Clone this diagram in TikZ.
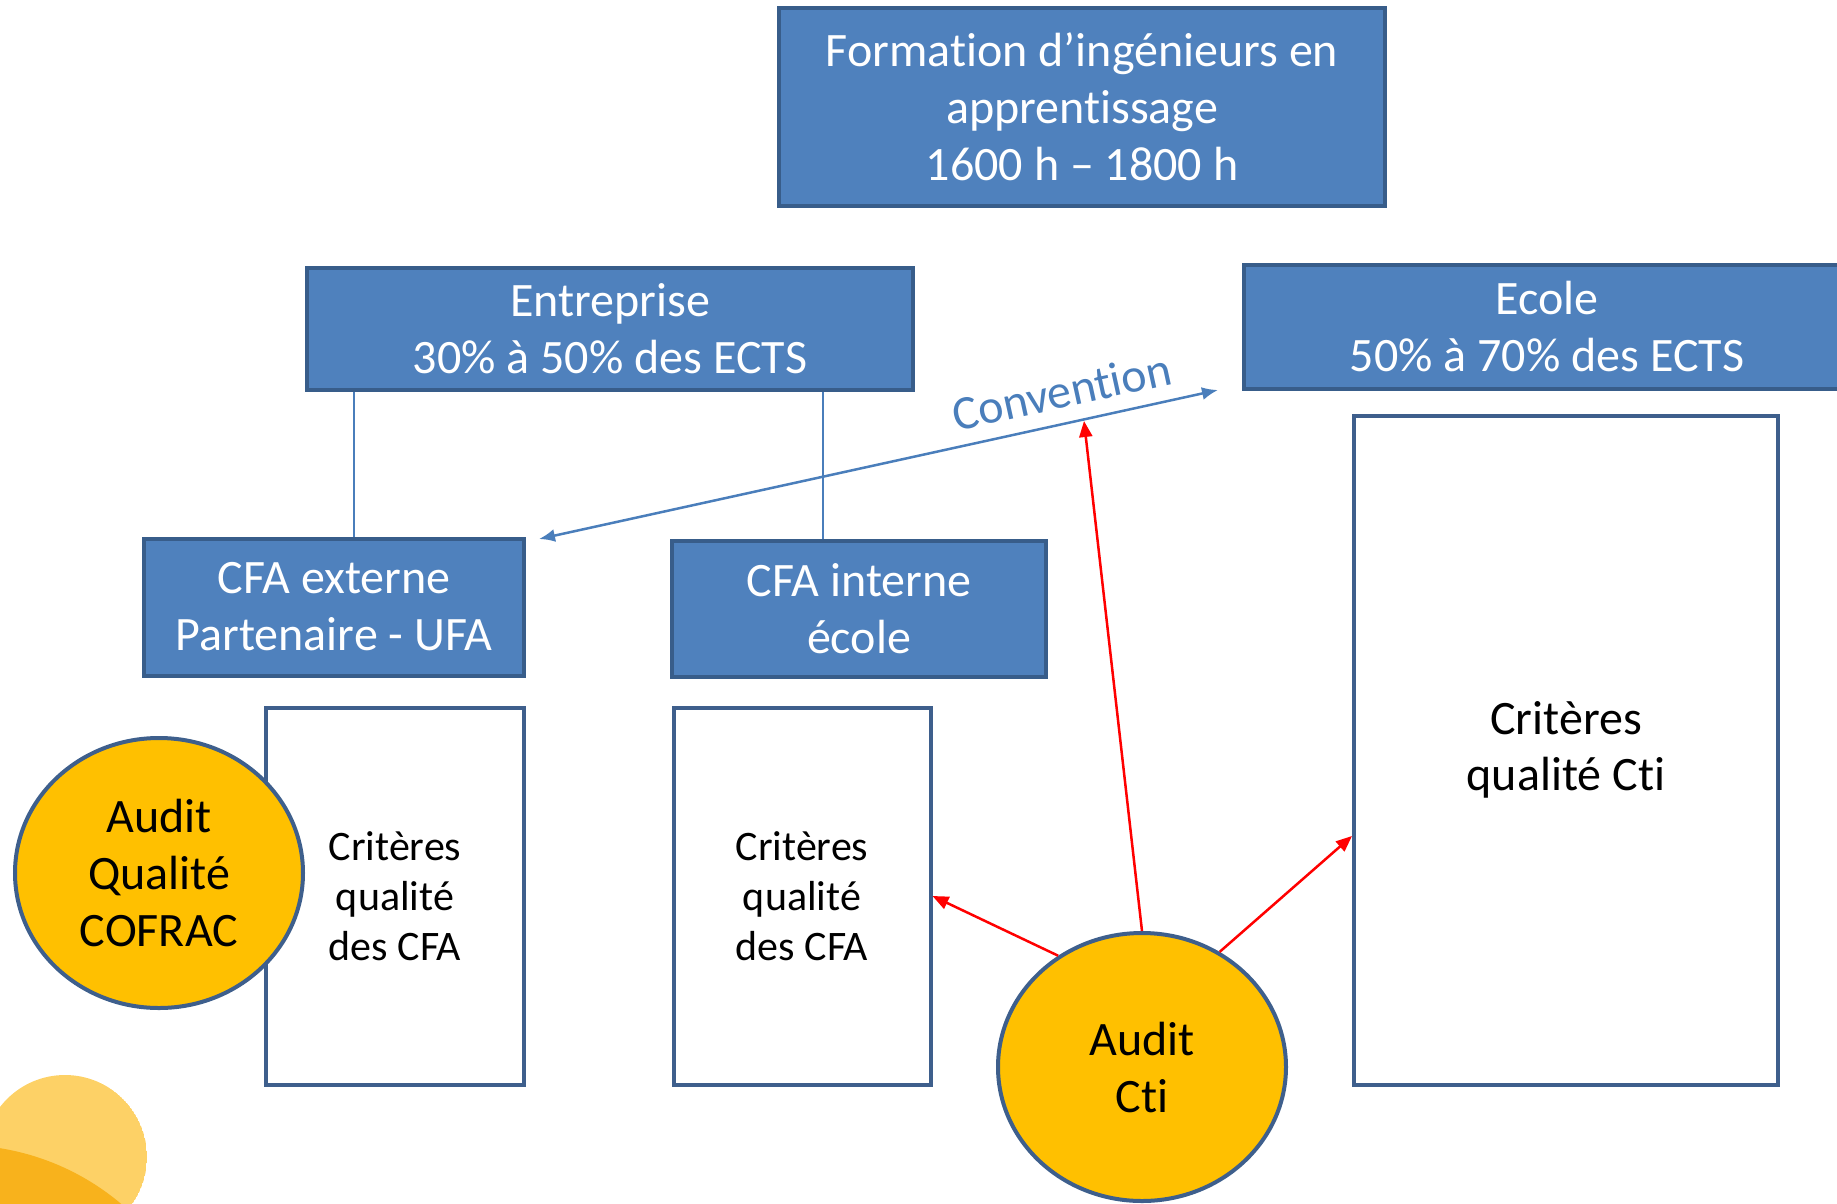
\documentclass[tikz,border=0pt]{standalone}
\usepackage{fontspec}
\setmainfont{Carlito}[Ligatures={NoCommon,NoRare,NoContextual}]
\usetikzlibrary{arrows.meta, positioning, calc, shapes.geometric}
\definecolor{boiteBleu}{HTML}{4F81BD}
\definecolor{bordBleu}{HTML}{385D8A}
\definecolor{bordCrit}{HTML}{3E5F8C}
\definecolor{orAudit}{HTML}{FFC000}
\definecolor{convBleu}{HTML}{4A7EBB}
\definecolor{decoClair}{HTML}{FDD166}
\definecolor{decoFonce}{HTML}{F8B21C}

\begin{document}
\begin{tikzpicture}[x=1pt, y=-1pt,
  boite/.style={draw=bordBleu, line width=4pt, fill=boiteBleu, text=white, align=center, inner sep=0pt, font=\fontsize{48}{57}\selectfont},
  critere/.style={draw=bordCrit, line width=4pt, fill=white, align=center, inner sep=0pt},
  audit/.style={ellipse, draw=bordCrit, line width=4pt, fill=orAudit, align=center, inner sep=0pt, font=\fontsize{48}{57}\selectfont},
  lien/.style={convBleu, line width=1.5pt},
  fleche/.style={red, line width=2.5pt, -{Triangle[length=16pt,width=13pt]}}]
\useasboundingbox (0,0) rectangle (1837,1203);
\clip (0,0) rectangle (1837,1203);
% decoration bottom left
\begin{scope}
\clip (65,1157) circle (82pt);
\fill[decoClair] (65,1157) circle (82pt);
\fill[decoFonce] (-40,1395) circle (250pt);
\end{scope}
% blue boxes
\node[boite, minimum width=606pt, minimum height=198pt] (titre) at (1082,107) {Formation d’ingénieurs en\\apprentissage\\1600 h – 1800 h};
\node[boite, minimum width=606pt, minimum height=122pt] (entreprise) at (610,329) {Entreprise\\30\% à 50\% des ECTS};
\node[boite, minimum width=606pt, minimum height=124pt] (ecole) at (1547,327) {Ecole\\50\% à 70\% des ECTS};
\node[boite, minimum width=380pt, minimum height=137pt] (cfaext) at (334,607) {CFA externe\\Partenaire - UFA};
\node[boite, minimum width=374pt, minimum height=136pt] (cfaint) at (859,609) {CFA interne\\école};
% criteria boxes
\node[critere, minimum width=258pt, minimum height=377pt, font=\fontsize{42}{50}\selectfont] (crit1) at (395,896) {Critères\\qualité\\des CFA};
\node[critere, minimum width=257pt, minimum height=377pt, font=\fontsize{42}{50}\selectfont] (crit2) at (802,896) {Critères\\qualité\\des CFA};
\node[critere, minimum width=424pt, minimum height=669pt, font=\fontsize{48}{56}\selectfont] (critcti) at (1566,750) {Critères\\qualité Cti};
% audits
\node[audit, minimum width=288pt, minimum height=270pt] (cofrac) at (159,873) {Audit\\Qualité\\COFRAC};
\node[audit, minimum width=288pt, minimum height=268pt] (cti) at (1142,1067) {Audit\\Cti};
% links
\draw[lien] ([xshift=49pt]entreprise.south west) -- ([xshift=49pt]entreprise.south west |- cfaext.north);
\draw[lien] ([xshift=153pt]cfaint.north west) -- ([xshift=153pt]cfaint.north west |- entreprise.south);
\coordinate (conv-a) at (539,539);
\coordinate (conv-b) at (1218,390);
\draw[convBleu, line width=2.5pt, {Latex[length=16pt,width=13pt]}-{Latex[length=16pt,width=13pt]}] (conv-a) -- node[pos=0.78, sloped, above=14pt, text=convBleu, font=\fontsize{48}{57}\selectfont, inner sep=0pt] (convlabel) {Convention} (conv-b);
\coordinate (conv-hit) at (1084,421);
\draw[fleche] (cti.north) -- (conv-hit);
\draw[fleche] (cti.127) -- (crit2.east);
\draw[fleche] (cti.56) -- ([yshift=-86pt]critcti.west);
\end{tikzpicture}
\end{document}
